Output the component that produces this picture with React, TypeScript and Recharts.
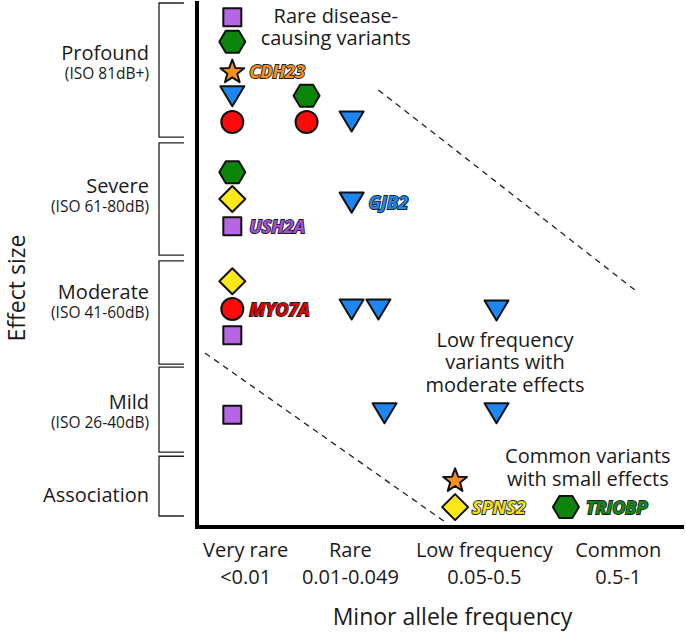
import {
    ScatterChart,
    Scatter,
    XAxis,
    YAxis,
    ReferenceArea,
    ReferenceLine,
    ReferenceDot,
    Label,
} from 'recharts';

const FONT = "'Open Sans', sans-serif";
const INK = '#1a1a1a';

// effect size bands (y in relative effect units, 0 = axis)
const bandNames = ['Profound', 'Severe', 'Moderate', 'Mild', 'Association'];
const bandRanges = ['(ISO 81dB+)', '(ISO 61-80dB)', '(ISO 41-60dB)', '(ISO 26-40dB)', ''];
const bandLabelY = [88.4, 63.0, 42.7, 21.8, 6.1];
const bandLow = [74.4, 51.9, 31.1, 14.3, 2.1];
const bandHigh = [100, 73.3, 50.8, 30.5, 13.5];

// minor allele frequency classes
const freqNames = ['Very rare', 'Rare', 'Low frequency', 'Common'];
const freqRanges = ['<0.01', '0.01-0.049', '0.05-0.5', '0.5-1'];
const freqTickX = [0.4, 1.26, 2.36, 3.46];

// variants, one array per marker type
const squareData = [
    { x: 0.29, y: 97.3 },
    { x: 0.29, y: 57.4, gene: 'USH2A' },
    { x: 0.29, y: 36.6 },
    { x: 0.29, y: 21.4 },
];
const hexagonData = [
    { x: 0.29, y: 92.6 },
    { x: 0.9, y: 82.3 },
    { x: 0.29, y: 67.7 },
    { x: 3.03, y: 3.8, gene: 'TRIOBP' },
];
const starData = [
    { x: 0.29, y: 87.0, gene: 'CDH23' },
    { x: 2.12, y: 9.0 },
];
const triangleData = [
    { x: 0.29, y: 82.3 },
    { x: 1.27, y: 77.5 },
    { x: 1.27, y: 62.0, gene: 'GJB2' },
    { x: 1.27, y: 41.6 },
    { x: 1.49, y: 41.6 },
    { x: 2.46, y: 41.4 },
    { x: 1.54, y: 21.8 },
    { x: 2.46, y: 21.8 },
];
const circleData = [
    { x: 0.29, y: 77.3 },
    { x: 0.9, y: 77.3 },
    { x: 0.29, y: 41.6, gene: 'MYO7A' },
];
const diamondData = [
    { x: 0.29, y: 62.6 },
    { x: 0.29, y: 46.9 },
    { x: 2.12, y: 3.8, gene: 'SPNS2' },
];

const notes = [
    { x: 1.14, y: 96.2, lines: ['Rare disease-', 'causing variants'] },
    { x: 2.53, y: 34.4, lines: ['Low frequency', 'variants with', 'moderate effects'] },
    { x: 3.21, y: 12.2, lines: ['Common variants', 'with small effects'] },
];

const upperDash = [{ x: 1.49, y: 83.4 }, { x: 3.62, y: 44.8 }];
const lowerDash = [{ x: 0.066, y: 33.2 }, { x: 2.05, y: 0.76 }];

const geneLabel = (cx: number, cy: number, gene: string | undefined, color: string, gap: number) =>
    gene ? (
        <text
            x={cx + gap}
            y={cy + 6.5}
            fill={color}
            stroke="#1e1e1e"
            strokeWidth={1.8}
            paintOrder="stroke"
            fontFamily={FONT}
            fontSize={18}
            fontWeight={700}
            fontStyle="italic"
        >
            {gene}
        </text>
    ) : null;

const markerStroke = { stroke: '#111', strokeWidth: 2, strokeLinejoin: 'round' as const };

const makeShape = (kind: string, fill: string, textColor: string) => (props: any) => {
    const { cx, cy, payload } = props;
    let mark;
    if (kind === 'square') {
        mark = <rect x={cx - 9} y={cy - 9} width={18} height={18} fill={fill} {...markerStroke} />;
    } else if (kind === 'circle') {
        mark = <circle cx={cx} cy={cy} r={11} fill={fill} {...markerStroke} />;
    } else if (kind === 'hexagon') {
        const pts = [[-13, 0], [-6.5, -11], [6.5, -11], [13, 0], [6.5, 11], [-6.5, 11]];
        mark = <polygon points={pts.map(([a, b]) => `${cx + a},${cy + b}`).join(' ')} fill={fill} {...markerStroke} />;
    } else if (kind === 'triangle') {
        const pts = [[-12, -9.5], [12, -9.5], [0, 10.5]];
        mark = <polygon points={pts.map(([a, b]) => `${cx + a},${cy + b}`).join(' ')} fill={fill} {...markerStroke} />;
    } else if (kind === 'diamond') {
        const pts = [[0, -13], [13, 0], [0, 13], [-13, 0]];
        mark = <polygon points={pts.map(([a, b]) => `${cx + a},${cy + b}`).join(' ')} fill={fill} {...markerStroke} />;
    } else {
        const pts = [];
        for (let i = 0; i < 10; i++) {
            const r = i % 2 === 0 ? 12.5 : 5.2;
            const ang = -Math.PI / 2 + (i * Math.PI) / 5;
            pts.push(`${cx + r * Math.cos(ang)},${cy + 1 + r * Math.sin(ang)}`);
        }
        mark = <polygon points={pts.join(' ')} fill={fill} {...markerStroke} />;
    }
    return (
        <g>
            {mark}
            {geneLabel(cx, cy, payload.gene, textColor, kind === 'hexagon' ? 20 : 17)}
        </g>
    );
};

const FreqTick = ({ x, y, payload }: any) => {
    const i = freqTickX.findIndex((v) => Math.abs(v - payload.value) < 1e-6);
    return (
        <g>
            <text x={x} y={y + 28} textAnchor="middle" fill={INK} fontFamily={FONT} fontSize={20}>
                {freqNames[i]}
            </text>
            <text x={x} y={y + 55} textAnchor="middle" fill={INK} fontFamily={FONT} fontSize={20}>
                {freqRanges[i]}
            </text>
        </g>
    );
};

const BandTick = ({ x, y, payload }: any) => {
    const i = bandLabelY.findIndex((v) => Math.abs(v - payload.value) < 1e-6);
    if (!bandRanges[i]) {
        return (
            <text x={x} y={y + 7} textAnchor="end" fill={INK} fontFamily={FONT} fontSize={20}>
                {bandNames[i]}
            </text>
        );
    }
    return (
        <g>
            <text x={x} y={y - 4} textAnchor="end" fill={INK} fontFamily={FONT} fontSize={20}>
                {bandNames[i]}
            </text>
            <text x={x} y={y + 15} textAnchor="end" fill={INK} fontFamily={FONT} fontSize={15.5}>
                {bandRanges[i]}
            </text>
        </g>
    );
};

const bracket = (p: any) => (
    <path
        d={`M${p.x + p.width},${p.y}H${p.x}V${p.y + p.height}H${p.x + p.width}`}
        fill="none"
        stroke="#222"
        strokeWidth={1.3}
    />
);

const noteContent = (lines: string[]) => (p: any) => {
    const { x, y } = p.viewBox;
    return (
        <g>
            {lines.map((l, i) => (
                <text key={l} x={x} y={y + i * 22.5} textAnchor="middle" fill={INK} fontFamily={FONT} fontSize={20}>
                    {l}
                </text>
            ))}
        </g>
    );
};

export default function App() {
    return (
        <div style={{ position: 'absolute', left: 0, top: 0, background: '#fff' }}>
            <ScatterChart width={686} height={634} margin={{ top: 3, right: 2, bottom: 0, left: 0 }}>
                <XAxis
                    type="number"
                    dataKey="x"
                    domain={[0, 4]}
                    ticks={freqTickX}
                    interval={0}
                    tick={<FreqTick />}
                    tickLine={false}
                    tickSize={0}
                    height={107}
                    axisLine={{ stroke: '#000', strokeWidth: 4 }}
                >
                    <Label
                        content={(p: any) => (
                            <text
                                x={p.viewBox.x + p.viewBox.width / 2 + 12}
                                y={p.viewBox.y + 98}
                                textAnchor="middle"
                                fill={INK}
                                fontFamily={FONT}
                                fontSize={23}
                            >
                                Minor allele frequency
                            </text>
                        )}
                    />
                </XAxis>
                <YAxis
                    type="number"
                    dataKey="y"
                    domain={[0, 100]}
                    ticks={bandLabelY}
                    interval={0}
                    tick={<BandTick />}
                    tickLine={false}
                    tickSize={0}
                    tickMargin={48}
                    width={197}
                    axisLine={{ stroke: '#000', strokeWidth: 4, strokeLinecap: 'square' }}
                >
                    <Label
                        content={(p: any) => {
                            const cy = p.viewBox.y + p.viewBox.height / 2 + 23;
                            return (
                                <text
                                    x={25}
                                    y={cy}
                                    transform={`rotate(-90 25 ${cy})`}
                                    textAnchor="middle"
                                    fill={INK}
                                    fontFamily={FONT}
                                    fontSize={23}
                                >
                                    Effect size
                                </text>
                            );
                        }}
                    />
                </YAxis>

                {bandNames.map((name, i) => (
                    <ReferenceArea
                        key={name}
                        x1={-0.312}
                        x2={-0.107}
                        y1={bandLow[i]}
                        y2={bandHigh[i]}
                        ifOverflow="visible"
                        shape={bracket}
                    />
                ))}

                <ReferenceLine segment={upperDash} stroke="#222" strokeWidth={1.3} strokeDasharray="6 5" />
                <ReferenceLine segment={lowerDash} stroke="#222" strokeWidth={1.3} strokeDasharray="6 5" />

                {notes.map((n) => (
                    <ReferenceDot
                        key={n.lines[0]}
                        x={n.x}
                        y={n.y}
                        r={0}
                        fill="none"
                        stroke="none"
                        ifOverflow="visible"
                        label={{ content: noteContent(n.lines) }}
                    />
                ))}

                <Scatter data={squareData} isAnimationActive={false} shape={makeShape('square', '#b566e3', '#a64fd6')} />
                <Scatter data={hexagonData} isAnimationActive={false} shape={makeShape('hexagon', '#0b860b', '#138a13')} />
                <Scatter data={starData} isAnimationActive={false} shape={makeShape('star', '#f7901e', '#f7901e')} />
                <Scatter data={triangleData} isAnimationActive={false} shape={makeShape('triangle', '#1c86f2', '#1c86f2')} />
                <Scatter data={circleData} isAnimationActive={false} shape={makeShape('circle', '#ff0a0a', '#e00000')} />
                <Scatter data={diamondData} isAnimationActive={false} shape={makeShape('diamond', '#fbe816', '#f2e21a')} />
            </ScatterChart>
        </div>
    );
}
